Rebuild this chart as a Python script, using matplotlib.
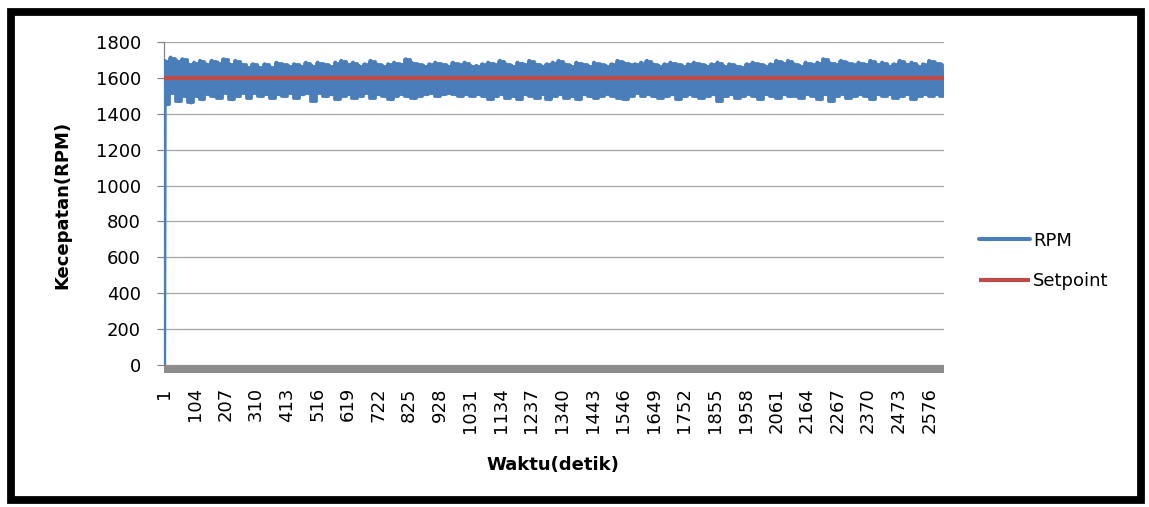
import numpy as np
import matplotlib
matplotlib.use("Agg")
import matplotlib.pyplot as plt
from matplotlib.patches import Rectangle

plt.rcParams['font.family'] = ['DejaVu Sans']

# ---- data ----
setpoint = 1600
n_waktu = 2625
x_tick_labels = [1, 104, 207, 310, 413, 516, 619, 722, 825, 928, 1031, 1134, 1237,
                 1340, 1443, 1546, 1649, 1752, 1855, 1958, 2061, 2164, 2267, 2370,
                 2473, 2576]
y_ticks = [0, 200, 400, 600, 800, 1000, 1200, 1400, 1600, 1800]

rpm_start = 0
rpm_high = [
    1695, 1713, 1695, 1704, 1676, 1685, 1695, 1676, 1695, 1685, 1704, 1676, 1695,
    1676, 1658, 1676, 1658, 1676, 1658, 1685, 1676, 1667, 1676, 1667, 1685, 1667,
    1685, 1676, 1667, 1685, 1695, 1676, 1685, 1667, 1676, 1695, 1676, 1667, 1676,
    1685, 1676, 1704, 1685, 1676, 1667, 1676, 1685, 1676, 1667, 1685, 1676, 1685, 1667,
    1667, 1676, 1685, 1676, 1695, 1676, 1667, 1685, 1676, 1695, 1676, 1667, 1676,
    1685, 1695, 1676, 1667, 1685, 1676, 1667, 1685, 1676, 1667, 1676, 1695, 1685, 1676,
    1676, 1685, 1695, 1676, 1667, 1676, 1685, 1676, 1667, 1676, 1685, 1676, 1667,
    1676, 1685, 1667, 1676, 1667, 1658, 1676, 1685, 1676, 1667, 1676, 1695, 1685, 1695,
    1676, 1667, 1685, 1676, 1685, 1704, 1685, 1676, 1695, 1685, 1676, 1685, 1676,
    1695, 1676, 1685, 1667, 1676, 1695, 1676, 1685, 1667, 1676, 1695, 1685, 1676,
]
rpm_low = [
    1453, 1518, 1472, 1500, 1463, 1500, 1481, 1509, 1500, 1490, 1518, 1481, 1500,
    1518, 1490, 1518, 1500, 1509, 1490, 1509, 1500, 1518, 1490, 1509, 1518, 1472,
    1518, 1500, 1509, 1481, 1500, 1509, 1490, 1500, 1518, 1490, 1509, 1500, 1481,
    1500, 1509, 1500, 1490, 1500, 1509, 1518, 1500, 1509, 1518, 1509, 1500, 1509, 1500,
    1509, 1500, 1481, 1500, 1509, 1490, 1500, 1481, 1509, 1500, 1490, 1509, 1481,
    1500, 1509, 1490, 1500, 1481, 1509, 1500, 1490, 1500, 1509, 1500, 1490, 1481, 1500,
    1518, 1500, 1509, 1500, 1490, 1500, 1509, 1481, 1500, 1509, 1500, 1490, 1500,
    1509, 1472, 1500, 1509, 1490, 1500, 1509, 1500, 1481, 1509, 1500, 1490, 1509, 1500,
    1500, 1490, 1509, 1500, 1481, 1509, 1472, 1500, 1509, 1490, 1500, 1509, 1500,
    1481, 1509, 1500, 1509, 1490, 1500, 1509, 1481, 1500, 1509, 1500, 1509, 1500,
]

# interleave high / low readings into one sampled series
rpm = [rpm_start]
for hi, lo in zip(rpm_high, rpm_low):
    rpm += [hi, lo]
waktu = np.concatenate([[1], np.linspace(3, n_waktu, len(rpm) - 1)])
seg_waktu = (waktu[1::2] + waktu[2::2]) / 2.0
setpoint_series = [setpoint] * 2
setpoint_waktu = [1, n_waktu]

BLUE = '#4A7EBB'
RED = '#BE4B48'

# ---- figure ----
W, H = 1149, 507
fig = plt.figure(figsize=(W / 100, H / 100), dpi=100)
fig.patch.set_facecolor('white')

# thick black frame
fig.patches.append(Rectangle((11 / W, 1 - 500 / H), (1141 - 11) / W, (500 - 12) / H,
                             transform=fig.transFigure, fill=False,
                             edgecolor='black', linewidth=5.6))

ax = fig.add_axes([164 / W, 1 - 365 / H, 780 / W, 323 / H])
ax.fill_between(seg_waktu, rpm_low, rpm_high, step='mid', facecolor=BLUE,
                edgecolor=BLUE, linewidth=2.0, joinstyle='round', zorder=3)
ax.plot(waktu, rpm, color=BLUE, linewidth=2.9, label='RPM',
        solid_joinstyle='round', solid_capstyle='round', zorder=3)
ax.plot(setpoint_waktu, setpoint_series, color=RED, linewidth=3.0,
        label='Setpoint', solid_capstyle='butt', zorder=4)

ax.set_xlim(0.5, n_waktu + 0.5)
ax.set_ylim(0, 1800)
ax.set_yticks(y_ticks)
ax.set_yticklabels([str(v) for v in y_ticks])
ax.set_xticks(x_tick_labels)
ax.set_xticklabels([str(v) for v in x_tick_labels], rotation=90)

ax.grid(axis='y', color='#A6A6A6', linewidth=0.9, zorder=0)
ax.set_axisbelow(True)
for s in ['top', 'right', 'bottom']:
    ax.spines[s].set_visible(False)
ax.spines['left'].set_color('#868686')
ax.spines['left'].set_linewidth(0.9)

ax.tick_params(axis='y', length=5, width=0.9, color='#868686', pad=11.5,
               labelsize=13, labelcolor='black')
ax.tick_params(axis='x', length=0, pad=16, labelsize=13, labelcolor='black')

# grey floor band under the plot
ax.add_patch(Rectangle((0, -8 / 323), 1.0, 8 / 323, transform=ax.transAxes,
                       facecolor='#8C8C8C', edgecolor='none', clip_on=False,
                       zorder=2))

fig.text(553 / W, 1 - 465 / H, 'Waktu(detik)', ha='center', va='center',
         fontsize=13, fontweight='bold')
fig.text(62 / W, 1 - 205 / H, 'Kecepatan(RPM)', ha='center', va='center',
         rotation=90, fontsize=13, fontweight='bold')

handles, labels = ax.get_legend_handles_labels()
fig.legend(handles, labels, loc='center left',
           bbox_to_anchor=(979 / W, 1 - 261 / H), frameon=False,
           fontsize=13, handlelength=2.8, handletextpad=0.2,
           labelspacing=1.25, borderaxespad=0, borderpad=0)

fig.savefig('out.png', dpi=100, facecolor=fig.get_facecolor())
